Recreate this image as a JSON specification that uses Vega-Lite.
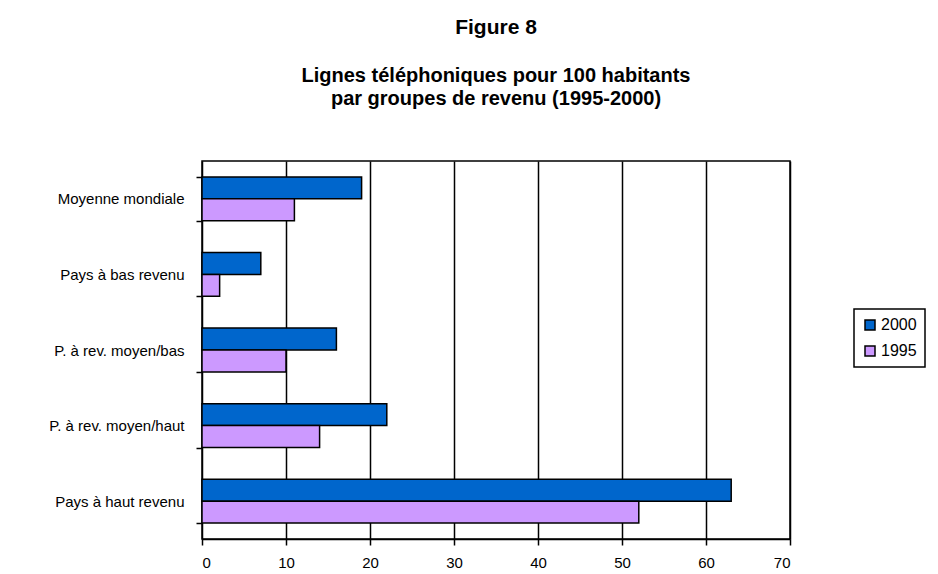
{
  "$schema": "https://vega.github.io/schema/vega-lite/v6.json",
  "width": 588,
  "height": 378,
  "padding": {"left": 5, "top": 17, "right": 0, "bottom": 0},
  "background": "white",
  "title": {
    "text": "Figure 8",
    "subtitle": ["Lignes téléphoniques pour 100 habitants", "par groupes de revenu (1995-2000)"],
    "anchor": "middle",
    "font": "Liberation Sans",
    "fontSize": 21,
    "fontWeight": "bold",
    "color": "black",
    "subtitleFont": "Liberation Sans",
    "subtitleFontSize": 20,
    "subtitleFontWeight": "bold",
    "subtitleColor": "black",
    "subtitlePadding": 28,
    "subtitleLineHeight": 23,
    "offset": 45
  },
  "data": {
    "values": [
      {"groupe": "Moyenne mondiale", "annee": "2000", "valeur": 19},
      {"groupe": "Moyenne mondiale", "annee": "1995", "valeur": 11},
      {"groupe": "Pays à bas revenu", "annee": "2000", "valeur": 7},
      {"groupe": "Pays à bas revenu", "annee": "1995", "valeur": 2.1},
      {"groupe": "P. à rev. moyen/bas", "annee": "2000", "valeur": 16},
      {"groupe": "P. à rev. moyen/bas", "annee": "1995", "valeur": 10},
      {"groupe": "P. à rev. moyen/haut", "annee": "2000", "valeur": 22},
      {"groupe": "P. à rev. moyen/haut", "annee": "1995", "valeur": 14},
      {"groupe": "Pays à haut revenu", "annee": "2000", "valeur": 63},
      {"groupe": "Pays à haut revenu", "annee": "1995", "valeur": 52}
    ]
  },
  "mark": {"type": "bar", "stroke": "black", "strokeWidth": 1.5},
  "encoding": {
    "y": {
      "field": "groupe",
      "type": "nominal",
      "sort": ["Moyenne mondiale", "Pays à bas revenu", "P. à rev. moyen/bas", "P. à rev. moyen/haut", "Pays à haut revenu"],
      "scale": {"paddingInner": 0.42, "paddingOuter": 0.21},
      "axis": {
        "title": null,
        "tickBand": "extent",
        "labelFont": "Liberation Sans",
        "labelFontSize": 15,
        "labelColor": "black",
        "labelPadding": 12,
        "tickColor": "black",
        "tickWidth": 1.5,
        "tickSize": 6,
        "domain": false,
        "grid": false,
        "minExtent": 197
      }
    },
    "yOffset": {"field": "annee", "type": "nominal", "sort": ["2000", "1995"]},
    "x": {
      "field": "valeur",
      "type": "quantitative",
      "scale": {"domain": [0, 70]},
      "axis": {
        "title": null,
        "values": [0, 10, 20, 30, 40, 50, 60, 70],
        "labelFont": "Liberation Sans",
        "labelFontSize": 15,
        "labelColor": "black",
        "labelPadding": 10,
        "tickColor": "black",
        "tickWidth": 1.5,
        "tickSize": 6,
        "domainColor": "black",
        "domainWidth": 1.5,
        "grid": true,
        "gridColor": "black",
        "gridWidth": 1.5,
        "gridOpacity": 1
      }
    },
    "color": {
      "field": "annee",
      "type": "nominal",
      "scale": {"domain": ["2000", "1995"], "range": ["#0066CC", "#CC99FF"]},
      "legend": {
        "title": null,
        "orient": "none",
        "legendX": 652,
        "legendY": 148,
        "symbolType": "square",
        "symbolSize": 100,
        "symbolStrokeColor": "black",
        "symbolStrokeWidth": 1.5,
        "labelFont": "Liberation Sans",
        "labelFontSize": 16,
        "labelColor": "black",
        "labelOffset": 3,
        "rowPadding": 10,
        "strokeColor": "black",
        "padding": 8,
        "fillColor": "white"
      }
    }
  },
  "config": {
    "view": {"stroke": "black", "strokeWidth": 1.5},
    "legend": {"strokeWidth": 1.5}
  }
}
